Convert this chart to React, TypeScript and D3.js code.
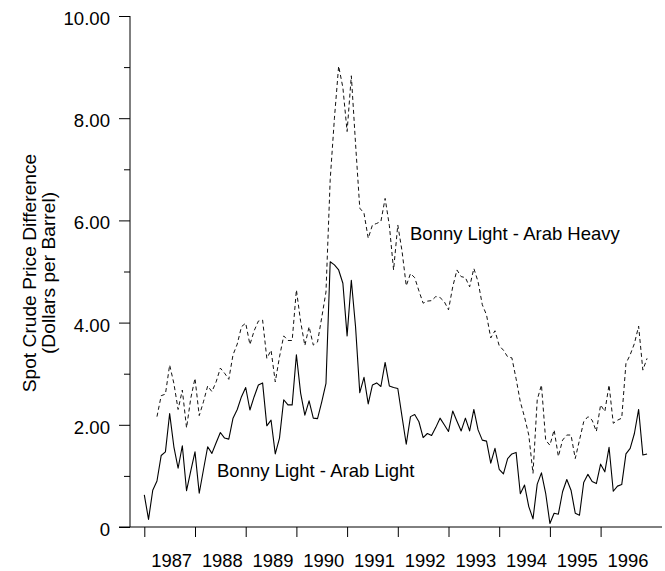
import { useEffect, useRef } from 'react';
import * as d3 from 'd3';

// monthly spot price differences, Jan 1987 - Dec 1996
const startYear = 1987;

const bonnyArabLight = [
  0.63, 0.15, 0.72, 0.9, 1.4, 1.47, 2.22, 1.57, 1.15, 1.59, 0.71, 1.1,
  1.47, 0.66, 1.12, 1.57, 1.44, 1.65, 1.85, 1.74, 1.72, 2.13, 2.3, 2.55,
  2.73, 2.29, 2.55, 2.78, 2.82, 1.98, 2.09, 1.43, 1.74, 2.49, 2.39, 2.39,
  3.37, 2.62, 2.19, 2.47, 2.13, 2.12, 2.45, 2.81, 5.19, 5.13, 5.03, 4.77,
  3.74, 4.83, 3.92, 2.63, 2.93, 2.41, 2.78, 2.82, 2.75, 3.22, 2.76, 2.73,
  2.71, 2.16, 1.62, 2.16, 2.2, 2.06, 1.75, 1.83, 1.79, 1.95, 2.13, 2.0,
  1.87, 2.27, 2.07, 1.88, 2.13, 1.88, 2.3, 1.9, 1.7, 1.68, 1.25, 1.54,
  1.13, 1.04, 1.34, 1.43, 1.46, 0.65, 0.82, 0.4, 0.16, 0.84, 1.06, 0.66,
  0.07, 0.27, 0.25, 0.69, 0.93, 0.72, 0.27, 0.23, 0.87, 1.03, 0.89, 0.85,
  1.23, 1.08, 1.56, 0.7, 0.8, 0.83, 1.43, 1.54, 1.83, 2.3, 1.41, 1.43,
];

// Arab Heavy series begins in April 1987
const heavyStartMonth = 3;
const bonnyArabHeavy = [
  2.16, 2.57, 2.6, 3.17, 2.81, 2.3, 2.68, 1.94, 2.52,
  2.91, 2.18, 2.45, 2.76, 2.65, 2.84, 3.11, 3.01, 2.89, 3.37, 3.58, 3.92,
  3.99, 3.57, 3.84, 4.03, 4.05, 3.3, 3.46, 2.84, 3.33, 3.74, 3.65, 3.65,
  4.64, 4.02, 3.55, 3.92, 3.56, 3.62, 4.1, 4.6, 6.8, 8.0, 9.02, 8.6,
  7.74, 8.83, 7.5, 6.24, 6.14, 5.65, 5.91, 5.94, 5.98, 6.43, 5.9, 5.03,
  5.91, 5.4, 4.72, 4.96, 4.88, 4.62, 4.38, 4.42, 4.43, 4.51, 4.49, 4.41,
  4.25, 4.7, 5.03, 4.9, 4.88, 4.7, 5.06, 4.8, 4.35, 4.15, 3.7, 3.84,
  3.55, 3.46, 3.33, 3.31, 2.9, 2.45, 2.15, 1.8, 1.05, 2.49, 2.78, 1.7,
  1.6, 1.9, 1.38, 1.7, 1.8, 1.8, 1.34, 1.7, 2.06, 2.16, 2.09, 1.87,
  2.39, 2.26, 2.78, 2.03, 2.09, 2.13, 3.2, 3.37, 3.59, 3.93, 3.07, 3.3,
];

const yearLabels = [1987, 1988, 1989, 1990, 1991, 1992, 1993, 1994, 1995, 1996];
const yMajorTicks = [0, 2, 4, 6, 8, 10];
const yMinorTicks = [1, 3, 5, 7, 9];

const FONT = '"Liberation Sans", Arial, Helvetica, sans-serif';

export default function App() {
  const svgRef = useRef<SVGSVGElement>(null);
  const width = 665;
  const height = 571;

  useEffect(() => {
    if (!svgRef.current) return;
    const svg = d3.select(svgRef.current);
    svg.selectAll('*').remove();

    const x = d3.scaleLinear().domain([1987, 1997]).range([144.3, 651.3]);
    const y = d3.scaleLinear().domain([0, 10]).range([527, 16]);
    const axisX = 130;
    const baseY = y(0);

    svg.append('rect').attr('width', width).attr('height', height).attr('fill', '#fff');

    // y axis: major ticks with labels
    const yAxis = svg
      .append('g')
      .attr('transform', `translate(${axisX},0)`)
      .call(
        d3.axisLeft(y)
          .tickValues(yMajorTicks)
          .tickSize(11)
          .tickPadding(9)
          .tickFormat((d) => (+d === 0 ? '0' : (+d).toFixed(2)))
      );
    yAxis.select('.domain').remove();
    yAxis.attr('font-family', FONT).attr('font-size', 18.6);
    yAxis.selectAll('text').attr('dy', '0.46em').attr('fill', '#000');
    yAxis.selectAll('line').attr('stroke', '#000');

    // minor ticks
    const yMinor = svg
      .append('g')
      .attr('transform', `translate(${axisX},0)`)
      .call(d3.axisLeft(y).tickValues(yMinorTicks).tickSize(6).tickFormat(() => ''));
    yMinor.select('.domain').remove();
    yMinor.selectAll('line').attr('stroke', '#000');

    svg.append('line')
      .attr('x1', axisX).attr('x2', axisX)
      .attr('y1', y(10)).attr('y2', baseY)
      .attr('stroke', '#000');

    // x axis
    const xAxis = svg
      .append('g')
      .attr('transform', `translate(0,${baseY})`)
      .call(d3.axisBottom(x).tickValues(yearLabels).tickSize(10).tickFormat(() => ''));
    xAxis.select('.domain').remove();
    xAxis.selectAll('line').attr('stroke', '#000');

    svg.append('line')
      .attr('x1', 119).attr('x2', 662)
      .attr('y1', baseY).attr('y2', baseY)
      .attr('stroke', '#000');

    svg.append('g')
      .selectAll('text')
      .data(yearLabels)
      .join('text')
      .attr('x', (d) => x(d + 0.5) + 2)
      .attr('y', 566.5)
      .attr('text-anchor', 'middle')
      .attr('font-family', FONT)
      .attr('font-size', 18.4)
      .text((d) => String(d));

    // series
    const line = d3
      .line<number>()
      .x((_d, i) => x(startYear + i / 12))
      .y((d) => y(d));

    const heavyLine = d3
      .line<number>()
      .x((_d, i) => x(startYear + (i + heavyStartMonth) / 12))
      .y((d) => y(d));

    svg.append('path')
      .datum(bonnyArabHeavy)
      .attr('d', heavyLine)
      .attr('fill', 'none')
      .attr('stroke', '#111')
      .attr('stroke-width', 1)
      .attr('stroke-dasharray', '4,3');

    svg.append('path')
      .datum(bonnyArabLight)
      .attr('d', line)
      .attr('fill', 'none')
      .attr('stroke', '#000')
      .attr('stroke-width', 1.1)
      .attr('stroke-linejoin', 'round');

    // annotations
    svg.append('text')
      .attr('x', 410)
      .attr('y', 240)
      .attr('font-family', FONT)
      .attr('font-size', 18.5)
      .text('Bonny Light - Arab Heavy');

    svg.append('text')
      .attr('x', 217)
      .attr('y', 477)
      .attr('font-family', FONT)
      .attr('font-size', 18.5)
      .text('Bonny Light - Arab Light');

    // y axis title
    const titleLines = ['Spot Crude Price Difference', '(Dollars per Barrel)'];
    titleLines.forEach((t, i) => {
      svg.append('text')
        .attr('transform', `translate(${36 + i * 18.5},273) rotate(-90)`)
        .attr('text-anchor', 'middle')
        .attr('font-family', FONT)
        .attr('font-size', 19.2)
        .text(t);
    });
  }, []);

  return (
    <svg
      ref={svgRef}
      width={width}
      height={height}
      style={{ position: 'absolute', left: 0, top: 0 }}
    />
  );
}
